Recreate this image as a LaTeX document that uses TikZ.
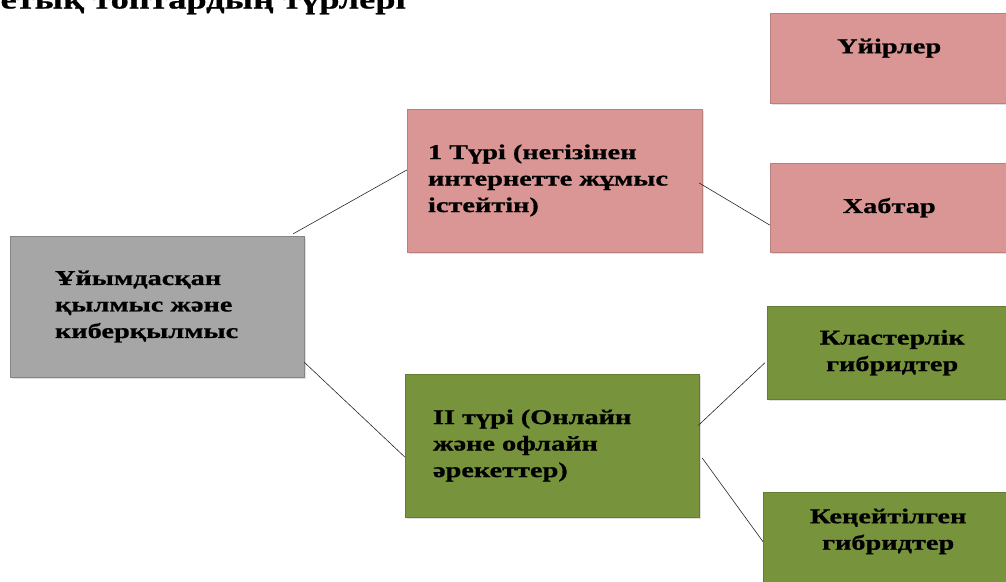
\documentclass[tikz,border=0pt]{standalone}
\usepackage{fontspec}
\setmainfont{Liberation Serif}
\newfontfamily\boxfont[FakeStretch=1.35, FakeBold=0.8]{Liberation Serif}
\usepackage{tikz}
\usetikzlibrary{positioning,shadows,calc}
\definecolor{rootc}{HTML}{A6A6A6}
\definecolor{pinkc}{HTML}{D99694}
\definecolor{greenc}{HTML}{77933C}
\tikzset{
  box/.style={draw, inner sep=0pt, line width=0.4pt,
              font=\boxfont\bfseries\fontsize{21}{26.5}\selectfont,
              drop shadow={opacity=0.25, shadow xshift=1.5pt, shadow yshift=-2pt}},
  gbox/.style={box, draw=rootc!80!black, fill=rootc, align=left},
  pbox/.style={box, draw=pinkc!85!black, fill=pinkc},
  vbox/.style={box, draw=greenc!85!black, fill=greenc},
  link/.style={line width=0.6pt, draw=black!85},
}

\begin{document}
\begin{tikzpicture}[x=1pt, y=-1pt]
  \path[use as bounding box, clip] (0,0) rectangle (1006,581);

  \node[font=\boxfont\bfseries\fontsize{27}{32}\selectfont, anchor=base west] (title) at (-3,8.5) {етық топтардың түрлері};

  \node[gbox, minimum width=294pt, minimum height=141pt, text width=204pt] (root) at (157,306.5) {Ұйымдасқан\\қылмыс және\\киберқылмыс};
  \node[pbox, minimum width=295pt, minimum height=143pt, text width=253pt, align=left] (typeone) at (554.5,180.5) {1 Түрі (негізінен\\интернетте жұмыс\\істейтін)};
  \node[vbox, minimum width=294pt, minimum height=143pt, text width=238pt, align=left] (typetwo) at (552,445.5) {II түрі (Онлайн\\және офлайн\\әрекеттер)};

  \node[pbox, anchor=north west, minimum width=238pt, text height=40pt, text depth=50pt] (clans) at (770,13) {Үйірлер};
  \node[pbox, anchor=north west, minimum width=238pt, minimum height=89pt] (hubs) at (770,163) {Хабтар};
  \node[vbox, anchor=north west, minimum width=250pt, minimum height=93pt, text width=220pt, align=center] (cluster) at (767,306) {Кластерлік\\гибридтер};
  \node[vbox, anchor=north west, minimum width=250pt, text height=31pt, text depth=80pt, text width=220pt, align=center] (extended) at (763,492) {Кеңейтілген\\гибридтер};

  \draw[link] ([xshift=-11pt, yshift=2pt]root.north east) -- ([yshift=10.5pt]typeone.west);
  \draw[link] ([yshift=15pt]root.south east) -- ([yshift=-11.5pt]typetwo.west);
  \draw[link] ([xshift=-3pt, yshift=-2.5pt]typeone.east) -- ([yshift=-17.5pt]hubs.west);
  \draw[link] ([xshift=-1pt, yshift=20pt]typetwo.east) -- ([xshift=-2pt, yshift=-10pt]cluster.west);
  \draw[link] ([xshift=3pt, yshift=-12.5pt]typetwo.east) -- ([yshift=6pt]extended.west);
\end{tikzpicture}
\end{document}
